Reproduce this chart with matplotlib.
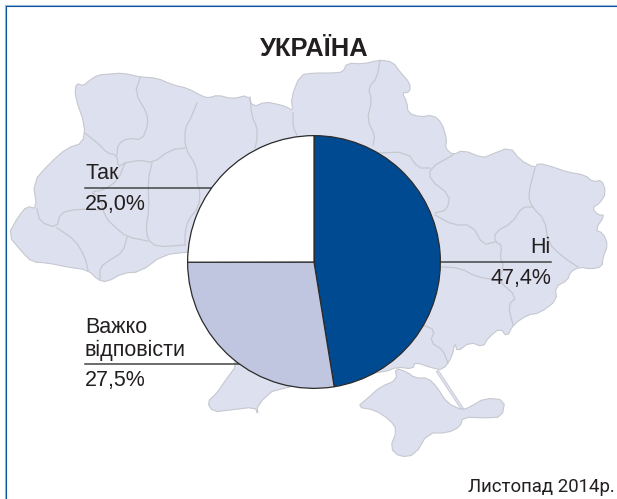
import matplotlib
matplotlib.use("Agg")
import matplotlib.pyplot as plt
from matplotlib.patches import Polygon

W, H = 617, 499

# poll results
labels = ["Ні", "Важко відповісти", "Так"]
values = [47.4, 27.5, 25.0]
colors = ["#004a92", "#c1c6e0", "#ffffff"]

# map outline, in pixels
mainland = [
    (76, 83), (83, 86), (90, 80), (98, 75), (110, 74), (123, 73), (140, 77), (157, 78), (173, 85), (187, 88),
    (202, 96), (208, 98), (218, 95), (232, 99), (248, 95), (253, 107), (265, 102), (277, 104), (287, 107),
    (293, 111), (291, 98), (300, 75), (313, 73), (333, 73), (343, 72), (347, 63), (363, 64), (380, 60),
    (393, 62), (400, 72), (410, 83), (410, 92), (402, 93), (407, 102), (408, 113), (420, 117), (433, 115),
    (442, 123), (447, 140), (445, 148), (453, 155), (463, 150), (483, 158), (490, 155), (510, 147), (520, 160),
    (535, 168), (538, 163), (553, 167), (567, 172), (585, 175), (593, 182), (602, 180), (606, 193), (600, 203),
    (592, 208), (598, 215), (605, 215), (595, 230), (603, 233), (608, 245), (603, 257), (602, 267), (590, 269),
    (580, 267), (570, 272), (568, 280), (555, 287), (557, 300), (540, 313), (527, 315), (513, 325), (507, 337),
    (500, 328), (488, 338), (483, 347), (470, 342), (457, 352), (455, 342), (452, 357), (443, 370), (432, 368),
    (415, 362), (413, 369), (397, 367), (385, 372), (277, 387), (257, 405), (258, 415), (255, 407), (230, 410),
    (213, 412), (207, 402), (217, 393), (227, 378), (237, 365), (240, 250), (187, 252), (163, 255), (140, 272),
    (123, 273), (107, 282), (98, 280), (88, 270), (67, 267), (48, 263), (32, 262), (22, 252), (8, 235),
    (18, 217), (27, 206), (37, 209), (33, 182), (50, 163), (67, 148), (83, 143), (85, 125), (75, 97),
]
crimea = [
    (357, 407), (368, 398), (380, 387), (397, 380), (395, 368), (407, 372), (415, 378), (428, 378), (437, 387),
    (447, 403), (462, 410), (470, 407), (485, 398), (505, 400), (502, 417), (485, 418), (463, 417), (460, 427),
    (447, 433), (428, 433), (415, 455), (400, 457), (390, 448), (397, 430), (390, 420), (375, 410),
]
spit = [(438, 372), (463, 410)]
borders = [
    [(140, 78), (135, 93), (147, 113), (148, 125), (142, 140), (128, 138), (118, 144), (117, 155)],
    [(85, 133), (100, 145), (107, 153), (117, 155), (118, 167), (125, 163)],
    [(197, 103), (190, 120), (185, 128), (185, 148), (197, 167), (197, 183), (200, 190), (199, 207), (188, 220), (185, 233), (185, 245)],
    [(125, 163), (140, 160), (153, 163), (170, 150), (185, 148)],
    [(152, 163), (148, 180), (149, 210), (146, 227), (148, 240), (157, 247), (185, 245)],
    [(125, 163), (118, 180), (104, 190), (90, 192), (100, 197), (105, 217), (115, 227), (127, 237), (148, 241)],
    [(37, 209), (40, 222), (57, 228), (60, 213), (77, 209), (100, 210)],
    [(57, 228), (75, 240), (85, 257), (88, 270)],
    [(127, 237), (123, 252), (110, 260), (100, 267), (100, 280)],
    [(250, 97), (252, 117), (257, 127), (257, 140), (255, 148)],
    [(293, 113), (293, 127), (297, 135)],
    [(380, 60), (377, 78), (368, 88), (372, 100), (367, 120), (375, 135), (373, 145)],
    [(375, 153), (407, 152), (418, 168), (430, 168)],
    [(453, 155), (430, 168), (430, 180), (450, 195), (447, 210), (435, 213)],
    [(435, 215), (453, 225), (472, 225), (483, 245), (495, 242)],
    [(535, 168), (528, 195), (532, 207), (545, 220), (548, 243), (563, 257), (578, 267)],
    [(532, 207), (522, 207), (512, 223), (495, 232), (495, 242), (502, 245), (500, 257), (504, 267), (498, 280), (517, 297), (508, 305), (513, 325)],
    [(442, 267), (460, 268), (477, 277), (497, 280)],
    [(423, 325), (435, 330), (430, 342), (443, 350), (448, 363)],
]


def soften(pts, closed=False):
    # one pass of corner cutting, the traced outline is too angular otherwise
    pairs = list(zip(pts, pts[1:] + pts[:1])) if closed else list(zip(pts, pts[1:]))
    out = [] if closed else [pts[0]]
    for (x0, y0), (x1, y1) in pairs:
        out.append((0.75 * x0 + 0.25 * x1, 0.75 * y0 + 0.25 * y1))
        out.append((0.25 * x0 + 0.75 * x1, 0.25 * y0 + 0.75 * y1))
    if not closed:
        out.append(pts[-1])
    return out


fig = plt.figure(figsize=(W / 100, H / 100), dpi=100)
ax = fig.add_axes([0, 0, 1, 1])
ax.set_xlim(0, W)
ax.set_ylim(H, 0)
ax.axis("off")

map_fill = "#dde0ee"
map_line = "#c6c8d0"
ax.plot(*zip(*spit), color=map_line, lw=2.4, zorder=1)
ax.plot(*zip(*spit), color=map_fill, lw=1.3, zorder=1)
ax.add_patch(Polygon(soften(mainland, True), closed=True, fc=map_fill, ec=map_line, lw=0.8, zorder=1))
ax.add_patch(Polygon(soften(crimea, True), closed=True, fc=map_fill, ec=map_line, lw=0.8, zorder=1))
for b in borders:
    ax.plot(*zip(*soften(b)), color=map_line, lw=0.9, zorder=1)

# frame: only left and top sides show, light outer edge and dark inner edge
ax.plot([4.5, 4.5, W], [H, 4.5, 4.5], color="#9fb8d6", lw=0.8)
ax.plot([5.6, 5.6, W], [H, 5.6, 5.6], color="#0f55a0", lw=0.8)

# leader lines
for x0, x1, y in [(85, 215, 188), (85, 240, 364), (438, 551, 262)]:
    ax.plot([x0, x1], [y, y], color="#444444", lw=1.1)

font = "Liberation Sans"
ink = "#231f20"
size = 15.5
ax.text(260, 56, "УКРАЇНА", family=font, weight="bold", fontsize=18.4, color=ink, va="baseline")
ax.text(85, 179, "Так", family=font, fontsize=size, color=ink, va="baseline")
ax.text(85, 210, "25,0%", family=font, fontsize=size, color=ink, va="baseline")
ax.text(551, 253, "Ні", family=font, fontsize=size, color=ink, va="baseline", ha="right")
ax.text(551, 284, "47,4%", family=font, fontsize=size, color=ink, va="baseline", ha="right")
ax.text(85, 333, "Важко", family=font, fontsize=size, color=ink, va="baseline")
ax.text(85, 356, "відповісти", family=font, fontsize=size, color=ink, va="baseline")
ax.text(85, 386, "27,5%", family=font, fontsize=size, color=ink, va="baseline")
ax.text(615, 492, "Листопад 2014р.", family="Roboto", fontsize=13.4, color=ink, va="baseline", ha="right")

# pie in its own square axes, centre (314, 262), radius 127 px
cx, cy, r = 314, 262, 127
pie_ax = fig.add_axes([(cx - r) / W, 1 - (cy + r) / H, 2 * r / W, 2 * r / H])
pie_ax.pie(values, colors=colors, startangle=90, counterclock=False, radius=1,
           wedgeprops=dict(edgecolor="#2b2b2b", linewidth=0.9))
pie_ax.set_xlim(-1.005, 1.005)
pie_ax.set_ylim(-1.005, 1.005)

fig.savefig("out.png", dpi=100, facecolor="white")
